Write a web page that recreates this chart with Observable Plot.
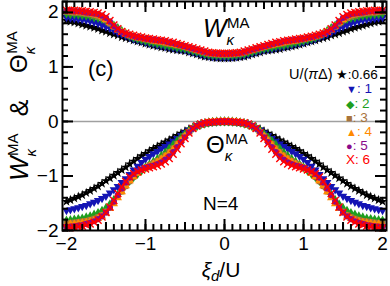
<!DOCTYPE html>
<html><head><meta charset="utf-8">
<script src="https://cdn.jsdelivr.net/npm/d3@7"></script>
<script src="https://cdn.jsdelivr.net/npm/@observablehq/plot@0.6"></script>
<style>
body{margin:0;background:#fff;}
#chart{width:390px;height:286px;}
</style></head><body><div id="chart"></div>
<script>
// x grid (xi_d / U)
const xi = [-2,-1.95,-1.9,-1.85,-1.8,-1.75,-1.7,-1.65,-1.6,-1.55,-1.5,-1.45,-1.4,-1.35,-1.3,-1.25,-1.2,-1.15,-1.1,-1.05,-1,-0.95,-0.9,-0.85,-0.8,-0.75,-0.7,-0.65,-0.6,-0.55,-0.5,-0.45,-0.4,-0.35,-0.3,-0.25,-0.2,-0.15,-0.1,-0.05,0,0.05,0.1,0.15,0.2,0.25,0.3,0.35,0.4,0.45,0.5,0.55,0.6,0.65,0.7,0.75,0.8,0.85,0.9,0.95,1,1.05,1.1,1.15,1.2,1.25,1.3,1.35,1.4,1.45,1.5,1.55,1.6,1.65,1.7,1.75,1.8,1.85,1.9,1.95,2];

// W_kappa^MA
const W066 = [1.85,1.83,1.82,1.80,1.78,1.76,1.74,1.72,1.70,1.67,1.65,1.62,1.60,1.58,1.55,1.53,1.51,1.49,1.47,1.45,1.43,1.41,1.39,1.38,1.36,1.35,1.33,1.32,1.31,1.30,1.29,1.27,1.25,1.23,1.21,1.19,1.18,1.17,1.165,1.16,
 1.16,1.16,1.165,1.17,1.18,1.19,1.21,1.23,1.25,1.27,1.29,1.30,1.31,1.32,1.33,1.35,1.36,1.38,1.39,1.41,1.43,1.45,1.47,1.49,1.51,1.53,1.55,1.58,1.60,1.62,1.65,1.67,1.70,1.72,1.74,1.76,1.78,1.80,1.82,1.83,1.85];
const W1 = [1.91,1.90,1.89,1.88,1.87,1.86,1.84,1.82,1.80,1.77,1.74,1.71,1.67,1.63,1.60,1.57,1.54,1.51,1.49,1.47,1.45,1.43,1.42,1.40,1.39,1.37,1.36,1.35,1.33,1.32,1.31,1.29,1.27,1.25,1.23,1.21,1.20,1.19,1.185,1.18,
 1.18,1.18,1.185,1.19,1.20,1.21,1.23,1.25,1.27,1.29,1.31,1.32,1.33,1.35,1.36,1.37,1.39,1.40,1.42,1.43,1.45,1.47,1.49,1.51,1.54,1.57,1.60,1.63,1.67,1.71,1.74,1.77,1.80,1.82,1.84,1.86,1.87,1.88,1.89,1.90,1.91];
const W2 = [1.98,1.97,1.97,1.96,1.95,1.94,1.93,1.91,1.90,1.88,1.85,1.81,1.76,1.71,1.66,1.61,1.57,1.54,1.52,1.50,1.48,1.46,1.45,1.43,1.42,1.40,1.39,1.38,1.36,1.35,1.34,1.32,1.30,1.28,1.26,1.24,1.23,1.22,1.215,1.21,
 1.21,1.21,1.215,1.22,1.23,1.24,1.26,1.28,1.30,1.32,1.34,1.35,1.36,1.38,1.39,1.40,1.42,1.43,1.45,1.46,1.48,1.50,1.52,1.54,1.57,1.61,1.66,1.71,1.76,1.81,1.85,1.88,1.90,1.91,1.93,1.94,1.95,1.96,1.97,1.97,1.98];
const W3 = [2.01,2.00,1.99,1.99,1.98,1.97,1.96,1.94,1.92,1.89,1.85,1.79,1.73,1.68,1.64,1.60,1.57,1.55,1.53,1.52,1.50,1.49,1.47,1.46,1.45,1.43,1.42,1.41,1.39,1.38,1.36,1.34,1.32,1.30,1.28,1.26,1.24,1.23,1.225,1.22,
 1.22,1.22,1.225,1.23,1.24,1.26,1.28,1.30,1.32,1.34,1.36,1.38,1.39,1.41,1.42,1.43,1.45,1.46,1.47,1.49,1.50,1.52,1.53,1.55,1.57,1.60,1.64,1.68,1.73,1.79,1.85,1.89,1.92,1.94,1.96,1.97,1.98,1.99,1.99,2.00,2.01];
const W4 = [2.02,2.02,2.01,2.00,2.00,1.99,1.98,1.97,1.95,1.92,1.87,1.81,1.74,1.68,1.64,1.61,1.58,1.56,1.54,1.53,1.51,1.50,1.48,1.47,1.46,1.45,1.43,1.42,1.40,1.39,1.37,1.35,1.33,1.31,1.29,1.27,1.25,1.24,1.235,1.23,
 1.23,1.23,1.235,1.24,1.25,1.27,1.29,1.31,1.33,1.35,1.37,1.39,1.40,1.42,1.43,1.45,1.46,1.47,1.48,1.50,1.51,1.53,1.54,1.56,1.58,1.61,1.64,1.68,1.74,1.81,1.87,1.92,1.95,1.97,1.98,1.99,2.00,2.00,2.01,2.02,2.02];
const W5 = [2.03,2.03,2.02,2.02,2.01,2.00,1.99,1.98,1.97,1.94,1.90,1.83,1.75,1.69,1.64,1.61,1.59,1.57,1.55,1.54,1.52,1.51,1.50,1.49,1.48,1.47,1.45,1.44,1.42,1.40,1.38,1.36,1.34,1.32,1.30,1.28,1.26,1.25,1.245,1.24,
 1.24,1.24,1.245,1.25,1.26,1.28,1.30,1.32,1.34,1.36,1.38,1.40,1.42,1.44,1.45,1.47,1.48,1.49,1.50,1.51,1.52,1.54,1.55,1.57,1.59,1.61,1.64,1.69,1.75,1.83,1.90,1.94,1.97,1.98,1.99,2.00,2.01,2.02,2.02,2.03,2.03];
const W6 = [2.04,2.04,2.04,2.03,2.03,2.02,2.01,2.00,1.99,1.96,1.92,1.85,1.77,1.70,1.65,1.62,1.60,1.58,1.56,1.55,1.53,1.52,1.51,1.50,1.49,1.48,1.46,1.45,1.43,1.41,1.39,1.37,1.35,1.33,1.31,1.29,1.27,1.26,1.255,1.25,
 1.25,1.25,1.255,1.26,1.27,1.29,1.31,1.33,1.35,1.37,1.39,1.41,1.43,1.45,1.46,1.48,1.49,1.50,1.51,1.52,1.53,1.55,1.56,1.58,1.60,1.62,1.65,1.70,1.77,1.85,1.92,1.96,1.99,2.00,2.01,2.02,2.03,2.03,2.04,2.04,2.04];

// Theta_kappa^MA
const T066 = [-1.47,-1.44,-1.41,-1.38,-1.35,-1.31,-1.27,-1.23,-1.19,-1.14,-1.09,-1.04,-0.99,-0.94,-0.89,-0.84,-0.78,-0.73,-0.68,-0.63,-0.59,-0.54,-0.50,-0.46,-0.42,-0.38,-0.34,-0.30,-0.26,-0.22,-0.18,-0.14,-0.11,-0.08,-0.05,-0.03,-0.02,-0.01,-0.005,0,
 0,0,-0.005,-0.01,-0.02,-0.03,-0.05,-0.08,-0.11,-0.14,-0.18,-0.22,-0.26,-0.30,-0.34,-0.38,-0.42,-0.46,-0.50,-0.54,-0.59,-0.63,-0.68,-0.73,-0.78,-0.84,-0.89,-0.94,-0.99,-1.04,-1.09,-1.14,-1.19,-1.23,-1.27,-1.31,-1.35,-1.38,-1.41,-1.44,-1.47];
const T1 = [-1.63,-1.62,-1.60,-1.58,-1.56,-1.54,-1.51,-1.48,-1.45,-1.41,-1.37,-1.31,-1.25,-1.19,-1.12,-1.05,-0.97,-0.89,-0.82,-0.75,-0.69,-0.64,-0.59,-0.55,-0.50,-0.46,-0.41,-0.36,-0.31,-0.26,-0.21,-0.16,-0.12,-0.08,-0.05,-0.03,-0.02,-0.01,-0.005,0,
 0,0,-0.005,-0.01,-0.02,-0.03,-0.05,-0.08,-0.12,-0.16,-0.21,-0.26,-0.31,-0.36,-0.41,-0.46,-0.50,-0.55,-0.59,-0.64,-0.69,-0.75,-0.82,-0.89,-0.97,-1.05,-1.12,-1.19,-1.25,-1.31,-1.37,-1.41,-1.45,-1.48,-1.51,-1.54,-1.56,-1.58,-1.60,-1.62,-1.63];
const T2 = [-1.82,-1.81,-1.80,-1.79,-1.78,-1.76,-1.74,-1.71,-1.68,-1.64,-1.59,-1.52,-1.44,-1.35,-1.26,-1.17,-1.09,-1.02,-0.96,-0.90,-0.84,-0.79,-0.74,-0.69,-0.63,-0.57,-0.50,-0.43,-0.36,-0.29,-0.23,-0.17,-0.12,-0.09,-0.06,-0.04,-0.02,-0.01,-0.005,0,
 0,0,-0.005,-0.01,-0.02,-0.04,-0.06,-0.09,-0.12,-0.17,-0.23,-0.29,-0.36,-0.43,-0.50,-0.57,-0.63,-0.69,-0.74,-0.79,-0.84,-0.90,-0.96,-1.02,-1.09,-1.17,-1.26,-1.35,-1.44,-1.52,-1.59,-1.64,-1.68,-1.71,-1.74,-1.76,-1.78,-1.79,-1.80,-1.81,-1.82];
const T3 = [-1.87,-1.86,-1.85,-1.84,-1.83,-1.82,-1.80,-1.78,-1.75,-1.71,-1.65,-1.58,-1.49,-1.39,-1.29,-1.19,-1.10,-1.02,-0.95,-0.89,-0.84,-0.80,-0.76,-0.72,-0.67,-0.62,-0.56,-0.49,-0.41,-0.33,-0.26,-0.19,-0.13,-0.09,-0.06,-0.04,-0.02,-0.01,-0.005,0,
 0,0,-0.005,-0.01,-0.02,-0.04,-0.06,-0.09,-0.13,-0.19,-0.26,-0.33,-0.41,-0.49,-0.56,-0.62,-0.67,-0.72,-0.76,-0.80,-0.84,-0.89,-0.95,-1.02,-1.10,-1.19,-1.29,-1.39,-1.49,-1.58,-1.65,-1.71,-1.75,-1.78,-1.80,-1.82,-1.83,-1.84,-1.85,-1.86,-1.87];
const T4 = [-1.89,-1.88,-1.88,-1.87,-1.86,-1.85,-1.83,-1.81,-1.78,-1.74,-1.68,-1.60,-1.51,-1.40,-1.29,-1.18,-1.09,-1.01,-0.95,-0.90,-0.86,-0.82,-0.78,-0.74,-0.69,-0.64,-0.58,-0.51,-0.43,-0.35,-0.27,-0.19,-0.13,-0.09,-0.06,-0.04,-0.02,-0.01,-0.005,0,
 0,0,-0.005,-0.01,-0.02,-0.04,-0.06,-0.09,-0.13,-0.19,-0.27,-0.35,-0.43,-0.51,-0.58,-0.64,-0.69,-0.74,-0.78,-0.82,-0.86,-0.90,-0.95,-1.01,-1.09,-1.18,-1.29,-1.40,-1.51,-1.60,-1.68,-1.74,-1.78,-1.81,-1.83,-1.85,-1.86,-1.87,-1.88,-1.88,-1.89];
const T5 = [-1.93,-1.93,-1.92,-1.91,-1.90,-1.88,-1.86,-1.83,-1.79,-1.74,-1.67,-1.58,-1.47,-1.35,-1.23,-1.12,-1.03,-0.96,-0.91,-0.88,-0.85,-0.83,-0.81,-0.78,-0.75,-0.70,-0.64,-0.56,-0.47,-0.38,-0.29,-0.20,-0.13,-0.08,-0.05,-0.03,-0.02,-0.01,-0.005,0,
 0,0,-0.005,-0.01,-0.02,-0.03,-0.05,-0.08,-0.13,-0.20,-0.29,-0.38,-0.47,-0.56,-0.64,-0.70,-0.75,-0.78,-0.81,-0.83,-0.85,-0.88,-0.91,-0.96,-1.03,-1.12,-1.23,-1.35,-1.47,-1.58,-1.67,-1.74,-1.79,-1.83,-1.86,-1.88,-1.90,-1.91,-1.92,-1.93,-1.93];
const T6 = [-1.95,-1.95,-1.94,-1.93,-1.92,-1.90,-1.88,-1.85,-1.81,-1.75,-1.67,-1.57,-1.45,-1.32,-1.20,-1.10,-1.02,-0.96,-0.92,-0.89,-0.87,-0.85,-0.83,-0.81,-0.78,-0.74,-0.68,-0.60,-0.51,-0.41,-0.31,-0.21,-0.13,-0.08,-0.045,-0.025,-0.015,-0.01,-0.005,0,
 0,0,-0.005,-0.01,-0.015,-0.025,-0.045,-0.08,-0.13,-0.21,-0.31,-0.41,-0.51,-0.60,-0.68,-0.74,-0.78,-0.81,-0.83,-0.85,-0.87,-0.89,-0.92,-0.96,-1.02,-1.10,-1.20,-1.32,-1.45,-1.57,-1.67,-1.75,-1.81,-1.85,-1.88,-1.90,-1.92,-1.93,-1.94,-1.95,-1.95];

const uLabels = ["0.66","1","2","3","4","5","6"];
const Wseries = [W066, W1, W2, W3, W4, W5, W6];
const Tseries = [T066, T1, T2, T3, T4, T5, T6];
const colors = ["#000000","#1414b4","#1e9e1e","#a8743c","#ff8a00","#8a0a8a","#ff0000"];
const symbols = ["star","triangle","diamond","square","triangle","circle","times"];
const rotations = [0,180,0,0,0,0,0];
const legendGlyphs = ["★","▼","◆","■","▲","●","X"];

const xTicks = [-2,-1,0,1,2];
const yTicks = [-2,-1,0,1,2];
const xMinor = d3.range(-20, 21).map(i => i / 10);
const xHalf = [-1.5,-0.5,0.5,1.5];
const yMinor = d3.range(-10, 12).map(i => i / 5);
const fmt = d => d < 0 ? "\u2212" + Math.abs(d) : String(d);

const FONT = "'Liberation Sans', Arial, 'DejaVu Sans', sans-serif";
const MT = 1, MB = 56, ML = 62, MR = 4, WIDTH = 390, HEIGHT = 286;
const PH = HEIGHT - MT - MB, PW = WIDTH - ML - MR;

const marks = [Plot.ruleY([0], {stroke: "#a0a0a0", strokeWidth: 1.5})];
uLabels.forEach((u, k) => {
  const pts = xi.map((x, i) => ({x, w: Wseries[k][i], t: Tseries[k][i]}));
  const filled = symbols[k] !== "times";
  const d = {x: "x", r: 3.1, symbol: symbols[k], rotate: rotations[k]};
  if (filled) { d.fill = colors[k]; d.stroke = "none"; } else { d.stroke = colors[k]; d.strokeWidth = 1.4; d.fill = "none"; d.r = 3.3; }
  marks.push(Plot.line(pts, {x: "x", y: "w", stroke: colors[k], strokeWidth: 1}));
  marks.push(Plot.line(pts, {x: "x", y: "t", stroke: colors[k], strokeWidth: 1}));
  marks.push(Plot.dot(pts, {...d, y: "w"}));
  marks.push(Plot.dot(pts, {...d, y: "t"}));
});
// inward ticks on all four sides (Plot tick marks, limited by insets)
const tk = {stroke: "#000", strokeWidth: 2};
for (const [vals, len] of [[xMinor, 6], [xHalf, 8], [xTicks, 11]]) {
  marks.push(Plot.tickX(vals, {x: d => d, insetTop: PH - len, ...tk}));
  marks.push(Plot.tickX(vals, {x: d => d, insetBottom: PH - len, ...tk}));
}
for (const [vals, len] of [[yMinor, 6], [yTicks, 11]]) {
  marks.push(Plot.tickY(vals, {y: d => d, insetRight: PW - len, ...tk}));
  marks.push(Plot.tickY(vals, {y: d => d, insetLeft: PW - len, ...tk}));
}
marks.push(Plot.axisX(xTicks, {anchor: "bottom", tickSize: 0, tickPadding: 6, tickFormat: fmt, label: null, fontSize: 19}));
marks.push(Plot.axisY(yTicks, {anchor: "left", tickSize: 0, tickPadding: 4, tickFormat: fmt, label: null, fontSize: 19}));
marks.push(Plot.frame({stroke: "black", strokeWidth: 2}));

const svgNode = Plot.plot({
  width: WIDTH, height: HEIGHT,
  marginLeft: ML, marginRight: MR, marginTop: MT, marginBottom: MB,
  x: {domain: [-2.05, 2.05]},
  y: {domain: [-2, 2.2]},
  style: {fontFamily: FONT, fontSize: "19px", color: "black", background: "white", overflow: "visible"},
  marks
});
document.getElementById("chart").appendChild(svgNode);
const svg = d3.select(svgNode);

function sym(g, x, y, size, main, italicMain, subSize, subDy, supDy, supDx) {
  const t = g.append("text").attr("x", x).attr("y", y).attr("text-anchor", "start").attr("font-size", size).attr("font-family", FONT).attr("fill", "black");
  t.append("tspan").attr("font-style", italicMain ? "italic" : "normal").text(main);
  t.append("tspan").attr("font-size", subSize).attr("font-style", "italic").attr("dy", subDy).text("κ");
  t.append("tspan").attr("font-size", subSize).attr("dx", supDx).attr("dy", supDy - subDy).text("MA");
  return t;
}
// y label (rotated)
const gW = svg.append("g").attr("transform", "translate(28,181) rotate(-90)");
sym(gW, 0, 0, 26, "W", true, 15, 8, -10, -7);
svg.append("g").attr("transform", "translate(28,108) rotate(-90)")
  .append("text").attr("text-anchor", "middle").attr("font-size", 25).attr("font-family", FONT).text("&");
const gT = svg.append("g").attr("transform", "translate(27,73) rotate(-90)");
sym(gT, 0, 0, 24, "Θ", false, 15, 8, -10, -7);

// x label
const xl = svg.append("text").attr("x", 221).attr("y", 277).attr("text-anchor", "middle").attr("font-size", 21).attr("font-family", FONT);
xl.append("tspan").attr("font-style", "italic").text("ξ");
xl.append("tspan").attr("font-style", "italic").attr("font-size", 15).attr("dy", 4).text("d");
xl.append("tspan").attr("dy", -4).text("/U");

// annotations
svg.append("text").attr("x", 88).attr("y", 76).attr("text-anchor", "start").attr("font-size", 22).attr("font-family", FONT).text("(c)");
sym(svg, 203, 37, 25, "W", true, 15, 8, -9, -7);
sym(svg, 206, 153, 24, "Θ", false, 15, 8, -9, -7);
svg.append("text").attr("x", 203).attr("y", 210).attr("text-anchor", "start").attr("font-size", 19).attr("font-family", FONT).text("N=4");

// legend
const lt = svg.append("text").attr("x", 289).attr("y", 79).attr("text-anchor", "start").attr("font-size", 14.5).attr("font-family", FONT);
lt.append("tspan").text("U/(");
lt.append("tspan").attr("font-style", "italic").text("π");
lt.append("tspan").text("Δ)");
const baselines = [79, 93, 107.5, 122, 136, 150, 164];
uLabels.forEach((u, k) => {
  const t = svg.append("text").attr("x", k === 0 ? 336 : 346).attr("y", baselines[k]).attr("text-anchor", "start").attr("font-size", 13.5).attr("font-family", FONT).attr("fill", colors[k]);
  t.append("tspan").attr("font-size", k === 6 ? 13.5 : (k === 0 ? 13 : 11)).text(legendGlyphs[k]);
  t.append("tspan").text(k === 0 ? ":" + u : ": " + u);
});
</script></body></html>
